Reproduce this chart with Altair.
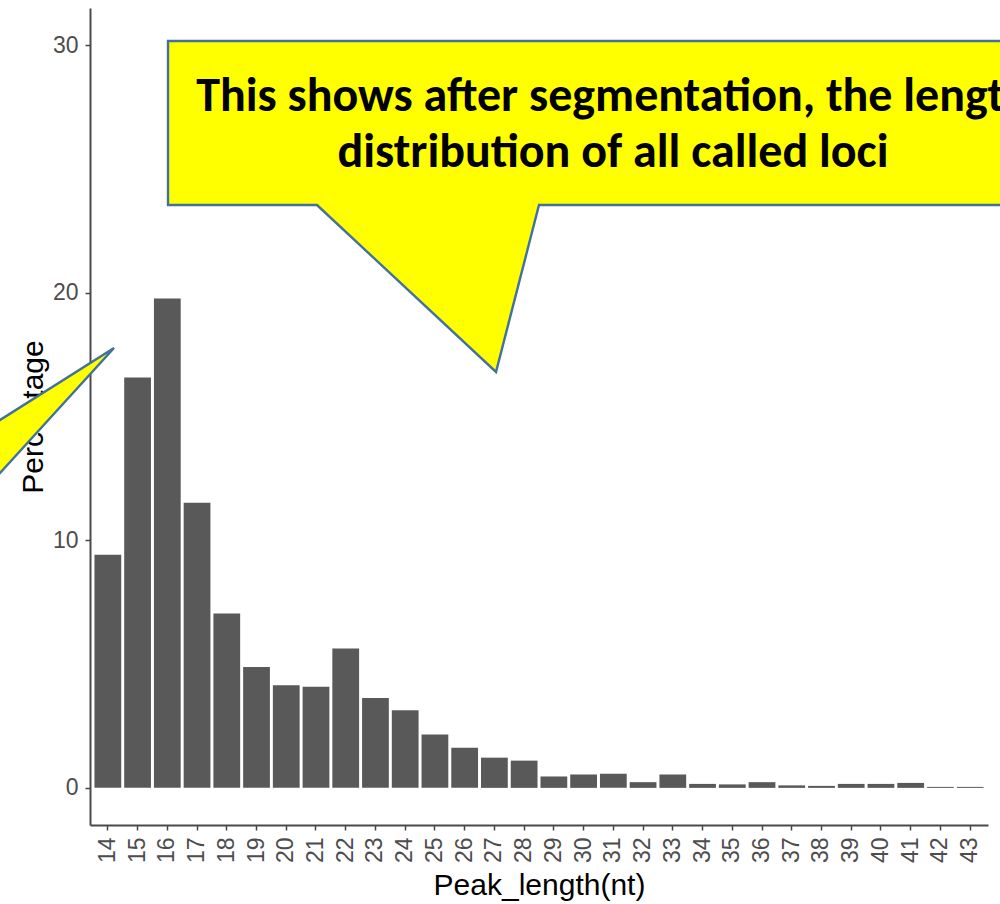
import altair as alt
import pandas as pd

# Peak length distribution after segmentation
lengths = list(range(14, 44))
percentages = [9.42, 16.58, 19.77, 11.52, 7.04, 4.88, 4.14, 4.08, 5.63, 3.63,
               3.13, 2.16, 1.62, 1.22, 1.10, 0.46, 0.54, 0.57, 0.23, 0.54,
               0.16, 0.14, 0.23, 0.10, 0.08, 0.16, 0.16, 0.20, 0.04, 0.04]
y_ticks = [0, 10, 20, 30]

callout_lines = ["This shows after segmentation, the length",
                 "distribution of all called loci"]

# Callout geometry, in pixels from the top-left corner of the plot area
main_callout_x = [78, 970, 970, 449, 406, 227, 78]
main_callout_y = [33, 33, 197, 197, 364, 197, 197]
side_callout_x = [24, -120, -120]
side_callout_y = [340, 431, 498]
text_x = 523
text_y = [103, 159]

PLOT_W, PLOT_H = 898, 817
AXIS_FONT = "Liberation Sans"

bars_df = pd.DataFrame({"length": lengths, "pct": percentages})
main_df = pd.DataFrame({"px": main_callout_x, "py": main_callout_y,
                        "i": range(len(main_callout_x))})
side_df = pd.DataFrame({"px": side_callout_x, "py": side_callout_y,
                        "i": range(len(side_callout_x))})
text_df = pd.DataFrame({"line": callout_lines, "py": text_y})

bars = alt.Chart(bars_df).mark_bar(color="#595959").encode(
    x=alt.X("length:O", title="Peak_length(nt)",
            scale=alt.Scale(paddingInner=0.1, paddingOuter=0.15),
            axis=alt.Axis(labelAngle=270, tickSize=5, labelPadding=7,
                          titlePadding=8)),
    y=alt.Y("pct:Q", title="Percentage",
            scale=alt.Scale(domain=[-1.5, 31.5], nice=False, zero=False),
            axis=alt.Axis(values=y_ticks, tickSize=5, labelPadding=7,
                          titlePadding=4)),
    y2=alt.datum(0),
)

def callout(df):
    return alt.Chart(df).mark_line(
        interpolate="linear-closed", fill="#ffff00", stroke="#41719c",
        strokeWidth=2.4, strokeJoin="miter"
    ).encode(
        x=alt.X("px:Q", scale=None, axis=None),
        y=alt.Y("py:Q", scale=None, axis=None),
        order="i:O",
    )

label = alt.Chart(text_df).mark_text(
    font="Carlito, Lato", fontWeight="bold", fontSize=48, color="black",
    align="center", baseline="alphabetic"
).encode(
    x=alt.value(text_x),
    y=alt.Y("py:Q", scale=None, axis=None),
    text="line:N",
)

chart = alt.layer(bars, callout(main_df), callout(side_df), label).resolve_scale(
    x="independent", y="independent"
).properties(
    width=PLOT_W, height=PLOT_H,
    autosize=alt.AutoSizeParams(type="none"),
    padding={"left": 90, "top": 8, "right": 12, "bottom": 79},
).configure_view(stroke=None).configure_axis(
    grid=False,
    domainColor="#4a4a4a", domainWidth=2,
    tickColor="#444444", tickWidth=1.5,
    labelColor="#4d4d4d", labelFont=AXIS_FONT, labelFontSize=23,
    titleColor="black", titleFont=AXIS_FONT, titleFontSize=30,
    titleFontWeight="normal",
)

chart.save("out.html", embed_options={"renderer": "svg", "actions": False})
